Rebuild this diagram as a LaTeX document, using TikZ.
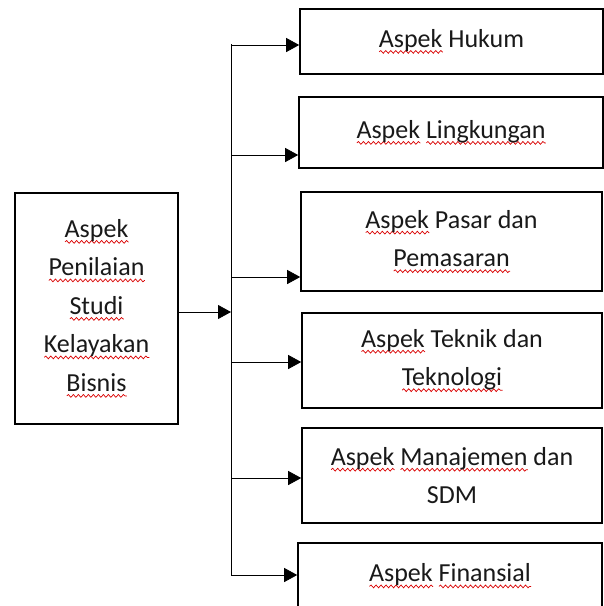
\documentclass[tikz,border=0pt]{standalone}
\usepackage{fontspec}
\setmainfont{Carlito}
\usetikzlibrary{arrows.meta,positioning,decorations.pathmorphing}
\newsavebox{\sqbox}
\newcommand{\sq}[1]{\sbox{\sqbox}{#1}\rlap{\tikz[baseline=0pt, x=1pt, y=1pt]\draw[red!85!black, line width=0.7pt, decorate, decoration={snake, amplitude=1.4pt, segment length=5pt}] (0,-4.5) -- (\wd\sqbox,-4.5);}#1}

\begin{document}
\begin{tikzpicture}[
			x=1pt, y=-1pt,
			box/.style={rectangle, draw, line width=1.6pt, align=center, inner sep=0pt, text=black!90, font=\fontsize{26}{38.5}\selectfont},
			arr/.style={-{Triangle[length=13pt, width=14pt]}, line width=0.8pt}
			]
			\useasboundingbox (0,0) rectangle (604,606);
			\node[box, minimum width=163pt, minimum height=231pt] (nilai) at (96.5,308.5) {\sq{Aspek}\\\sq{Penilaian}\\\sq{Studi}\\\sq{Kelayakan}\\\sq{Bisnis}};
			\node[box, minimum width=303pt, minimum height=65pt] (hukum) at (451.5,41.5) {\sq{Aspek} Hukum};
			\node[box, minimum width=304pt, minimum height=71pt] (lingk) at (451,132.5) {\sq{Aspek} \sq{Lingkungan}};
			\node[box, minimum width=301pt, minimum height=99pt] (pasar) at (451.5,241.5) {\sq{Aspek} Pasar dan\\\sq{Pemasaran}};
			\node[box, minimum width=300pt, minimum height=95pt] (teknik) at (452,360.5) {\sq{Aspek} Teknik dan\\\sq{Teknologi}};
			\node[box, minimum width=300pt, minimum height=95pt] (sdm) at (452,475.5) {\sq{Aspek} \sq{Manajemen} dan\\SDM};
			\node[box, minimum width=304pt, minimum height=66pt] (finans) at (450,576) {\sq{Aspek} \sq{Finansial}};
			\coordinate (atas) at (231,44);
			\coordinate (bawah) at (231,576);
			\coordinate (j) at (231,312);
			\coordinate (k1) at (231,45);
			\coordinate (k2) at (231,155);
			\coordinate (k3) at (231,277);
			\coordinate (k4) at (231,362);
			\coordinate (k5) at (231,478);
			\coordinate (k6) at (231,575);
			\draw[line width=0.8pt] (atas) -- (bawah);
			\draw[arr] (nilai.east |- j) -- (j);
			\draw[arr] (k1) -- (k1 -| hukum.west);
			\draw[arr] (k2) -- (k2 -| lingk.west);
			\draw[arr] (k3) -- (k3 -| pasar.west);
			\draw[arr] (k4) -- (k4 -| teknik.west);
			\draw[arr] (k5) -- (k5 -| sdm.west);
			\draw[arr] (k6) -- (k6 -| finans.west);
		\end{tikzpicture}
\end{document}
